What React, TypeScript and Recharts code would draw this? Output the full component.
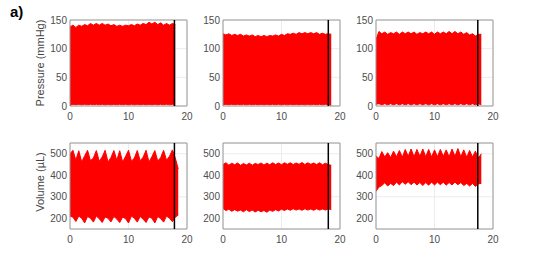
import React from "react";
import {
  AreaChart,
  Area,
  XAxis,
  YAxis,
  CartesianGrid,
  ReferenceLine,
  ReferenceArea,
} from "recharts";

// time axis (s), envelope sampled every 0.5 s
const time = [
  0, 0.5, 1, 1.5, 2, 2.5, 3, 3.5, 4, 4.5, 5, 5.5, 6, 6.5, 7, 7.5, 8, 8.5, 9,
  9.5, 10, 10.5, 11, 11.5, 12, 12.5, 13, 13.5, 14, 14.5, 15, 15.5, 16, 16.5,
  17, 17.5, 18, 18.5,
];

// pressure (mmHg) upper / lower envelopes
const pressHi1 = [138, 141, 137, 141, 139, 142, 140, 144, 141, 144, 141, 144, 141, 143, 140, 142, 139, 141, 139, 141, 140, 142, 140, 143, 141, 144, 142, 146, 143, 146, 142, 145, 141, 144, 141, 144, 142, null];
const pressLo1 = [1, 3, 2, 3, 2, 3, 2, 3, 2, 3, 2, 3, 2, 3, 2, 3, 2, 3, 2, 3, 2, 3, 2, 3, 2, 3, 2, 3, 2, 3, 2, 3, 2, 3, 2, 3, 1, null];
const pressHi2 = [126, 124, 126, 123, 125, 123, 125, 122, 124, 122, 124, 121, 123, 121, 123, 121, 123, 122, 124, 122, 125, 123, 126, 125, 127, 125, 128, 126, 128, 126, 128, 126, 128, 125, 127, 125, 126, 125];
const pressLo2 = [2, 3, 2, 3, 2, 3, 2, 3, 2, 3, 2, 3, 2, 3, 2, 3, 2, 3, 2, 3, 2, 3, 2, 3, 2, 3, 2, 3, 2, 3, 2, 3, 2, 3, 2, 3, 2, 1];
const pressHi3 = [116, 130, 126, 129, 125, 128, 126, 129, 125, 129, 126, 129, 126, 129, 125, 128, 126, 129, 126, 129, 125, 129, 126, 129, 126, 130, 126, 130, 126, 129, 125, 128, 124, 126, 122, 125, 125, null];
const pressLo3 = [3, 4, 2, 4, 2, 4, 2, 4, 2, 4, 2, 4, 2, 4, 2, 4, 2, 4, 2, 4, 2, 4, 2, 4, 2, 4, 2, 4, 2, 4, 2, 4, 2, 4, 2, 4, 2, null];

// volume (uL) upper / lower envelopes
const volHi1 = [500, 516, 470, 514, 462, 490, 516, 468, 480, 515, 465, 485, 516, 462, 482, 515, 470, 514, 462, 488, 516, 465, 480, 515, 468, 484, 516, 462, 486, 515, 466, 482, 516, 470, 488, 518, 480, 430];
const volLo1 = [210, 205, 185, 210, 200, 178, 208, 200, 182, 210, 198, 180, 206, 200, 183, 208, 196, 180, 206, 198, 178, 210, 200, 182, 208, 196, 180, 206, 200, 178, 208, 198, 182, 210, 200, 184, 205, 215];
const volHi2 = [450, 458, 447, 456, 449, 457, 446, 455, 448, 456, 447, 455, 450, 457, 448, 456, 449, 458, 450, 457, 449, 458, 451, 458, 450, 457, 451, 459, 450, 458, 451, 457, 450, 458, 449, 456, 450, 446];
const volLo2 = [245, 236, 242, 232, 240, 233, 238, 230, 240, 231, 238, 229, 237, 230, 236, 228, 238, 232, 240, 234, 242, 236, 243, 237, 244, 238, 243, 237, 244, 238, 243, 237, 244, 238, 243, 238, 244, 240];
const volHi3 = [490, 478, 510, 485, 505, 482, 512, 486, 515, 484, 520, 488, 522, 486, 520, 488, 522, 486, 520, 485, 518, 486, 520, 488, 518, 486, 522, 488, 524, 486, 518, 484, 515, 485, 512, 480, 500, null];
const volLo3 = [325, 345, 352, 365, 350, 362, 352, 368, 355, 370, 358, 370, 356, 368, 355, 366, 352, 366, 354, 368, 355, 368, 356, 368, 354, 366, 355, 368, 356, 366, 352, 362, 350, 362, 348, 360, 362, null];

// black vertical marker per column (s)
const markers = [17.85, 18.0, 17.4];

const xTicks = [0, 10, 20];
const pressTicks = [0, 50, 100, 150];
const volTicks = [200, 300, 400, 500];

const font = "'Liberation Sans', Arial, sans-serif";
const tickStyle = { fill: "#4d4d4d", fontSize: 10, fontFamily: font };

type PanelProps = {
  left: number;
  top: number;
  hi: (number | null)[];
  lo: (number | null)[];
  marker: number;
  domain: [number, number];
  ticks: number[];
};

const Panel = ({ left, top, hi, lo, marker, domain, ticks }: PanelProps) => {
  const data = time.map((t, i) => ({
    t,
    range: hi[i] == null ? null : [lo[i], hi[i]],
  }));

  return (
    <div style={{ position: "absolute", left: left - 35, top: top - 6 }}>
      <AreaChart
        width={160}
        height={114}
        data={data}
        margin={{ top: 6, right: 8, left: 0, bottom: 0 }}
      >
        <CartesianGrid stroke="#ececec" />
        <XAxis
          type="number"
          dataKey="t"
          domain={[0, 20]}
          ticks={xTicks}
          axisLine={false}
          tickLine={false}
          tickSize={0}
          tickMargin={7}
          height={22}
          tick={tickStyle}
          allowDataOverflow
        />
        <YAxis
          type="number"
          domain={domain}
          ticks={ticks}
          axisLine={false}
          tickLine={false}
          tickSize={0}
          tickMargin={3}
          width={35}
          tick={tickStyle}
          allowDataOverflow
        />
        <Area
          type="linear"
          dataKey="range"
          stroke="#ff0000"
          strokeWidth={1}
          fill="#ff0000"
          fillOpacity={1}
          dot={false}
          activeDot={false}
          isAnimationActive={false}
        />
        <ReferenceLine x={marker} stroke="#000000" strokeWidth={1.5} />
        <ReferenceArea
          x1={0}
          x2={20}
          y1={domain[0]}
          y2={domain[1]}
          fill="none"
          fillOpacity={0}
          stroke="#9a9a9a"
          strokeWidth={1}
        />
      </AreaChart>
    </div>
  );
};

const lefts = [70, 223, 376];

export default function App() {
  const press = [
    [pressHi1, pressLo1],
    [pressHi2, pressLo2],
    [pressHi3, pressLo3],
  ];
  const vol = [
    [volHi1, volLo1],
    [volHi2, volLo2],
    [volHi3, volLo3],
  ];

  return (
    <div
      style={{
        position: "absolute",
        left: 0,
        top: 0,
        width: 545,
        height: 260,
        background: "#fff",
      }}
    >
      {press.map(([hi, lo], i) => (
        <Panel
          key={"p" + i}
          left={lefts[i]}
          top={20}
          hi={hi}
          lo={lo}
          marker={markers[i]}
          domain={[0, 150]}
          ticks={pressTicks}
        />
      ))}
      {vol.map(([hi, lo], i) => (
        <Panel
          key={"v" + i}
          left={lefts[i]}
          top={143}
          hi={hi}
          lo={lo}
          marker={markers[i]}
          domain={[150, 550]}
          ticks={volTicks}
        />
      ))}
      <svg
        width={545}
        height={260}
        style={{ position: "absolute", left: 0, top: 0, pointerEvents: "none" }}
      >
        <text x={10} y={17} fontSize={15} fontWeight="bold" fontFamily={font} fill="#000">
          a)
        </text>
        <text
          x={44}
          y={63}
          transform="rotate(-90 44 63)"
          textAnchor="middle"
          fontSize={11}
          fontFamily={font}
          fill="#444"
        >
          Pressure (mmHg)
        </text>
        <text
          x={44}
          y={182}
          transform="rotate(-90 44 182)"
          textAnchor="middle"
          fontSize={11}
          fontFamily={font}
          fill="#444"
        >
          Volume (µL)
        </text>
      </svg>
    </div>
  );
}
